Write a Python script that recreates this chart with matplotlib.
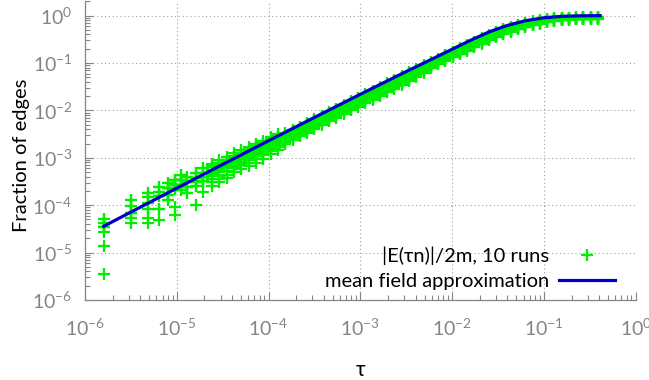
import numpy as np
import matplotlib
matplotlib.use("Agg")
import matplotlib.pyplot as plt
from matplotlib.ticker import LogLocator, LogFormatterMathtext, NullFormatter

plt.rcParams['font.family'] = ['Lato', 'DejaVu Sans']
plt.rcParams['mathtext.fontset'] = 'custom'
plt.rcParams['mathtext.rm'] = 'Lato'
plt.rcParams['mathtext.default'] = 'rm'

# tau grid: sample index k, tau = k * tau_step
tau_step = 1.6e-6
tau_k = [1, 2, 3, 4, 5, 6, 7, 8, 10, 12, 15, 18, 22, 26, 31, 38, 46, 55, 66, 79,
         95, 114, 137, 164, 197, 237, 284, 341, 410, 492, 590, 708, 850, 1020, 1224,
         1469, 1763, 2116, 2539, 3047, 3657, 4389, 5266, 6320, 7584, 9101, 10921,
         13105, 15726, 18872, 22646, 27175, 32610, 39132, 46958, 56350, 67620,
         81144, 97373, 116847, 140217, 168260, 201912, 242295]

# log10 of |E(tau n)|/2m for the 10 runs, one row per tau value
runs_log10 = [
    [-4.30, -4.38, -4.45, -4.45, -4.56, -4.38, -4.86, -5.46, -4.30, -4.45],
    [-4.02, -4.17, -3.89, -4.26, -4.37, -4.17, -4.02, -4.26, -3.89, -4.17],
    [-3.83, -3.96, -3.74, -4.07, -4.28, -3.96, -4.37, -3.83, -4.07, -3.74],
    [-3.72, -3.81, -3.61, -4.07, -3.81, -3.72, -4.31, -3.61, -3.81, -4.07],
    [-3.64, -3.78, -3.54, -3.89, -3.64, -3.78, -3.54, -3.89, -3.78, -3.64],
    [-3.57, -3.47, -4.03, -3.57, -4.21, -3.47, -3.57, -3.66, -3.66, -3.47],
    [-3.47, -3.57, -3.36, -3.68, -3.47, -3.57, -3.68, -3.36, -3.57, -3.47],
    [-3.40, -3.52, -3.62, -3.75, -3.40, -3.62, -3.52, -3.75, -3.62, -3.52],
    [-3.33, -3.43, -3.50, -4.00, -3.60, -3.43, -3.33, -3.50, -3.60, -3.43],
    [-3.22, -3.33, -3.40, -3.48, -3.72, -3.33, -3.40, -3.22, -3.48, -3.40],
    [-3.14, -3.20, -3.30, -3.38, -3.45, -3.26, -3.52, -3.18, -3.34, -3.60],
    [-3.05, -3.12, -3.22, -3.30, -3.38, -3.15, -3.45, -3.26, -3.20, -3.50],
    [-2.98, -3.04, -3.13, -3.20, -3.28, -3.10, -3.36, -3.16, -3.06, -3.42],
    [-2.90, -2.98, -3.06, -3.14, -3.22, -3.03, -3.30, -3.10, -2.96, -3.18],
    [-2.84, -2.92, -3.00, -3.08, -3.16, -2.97, -3.24, -3.03, -2.90, -3.12],
    [-2.78, -2.84, -2.93, -3.00, -3.10, -2.88, -3.18, -2.96, -2.82, -3.05],
    [-2.70, -2.76, -2.84, -2.92, -3.02, -2.80, -3.10, -2.88, -2.73, -2.97],
    [-2.64, -2.70, -2.78, -2.85, -2.95, -2.74, -3.02, -2.81, -2.67, -2.90],
    [-2.57, -2.63, -2.70, -2.78, -2.86, -2.66, -2.93, -2.74, -2.60, -2.82],
    [-2.50, -2.56, -2.62, -2.70, -2.78, -2.59, -2.84, -2.66, -2.53, -2.74],
    [-2.48, -2.54, -2.60, -2.66, -2.70, -2.52, -2.64, -2.57, -2.50, -2.68],
    [-2.42, -2.46, -2.52, -2.58, -2.62, -2.44, -2.56, -2.50, -2.41, -2.60],
    [-2.35, -2.39, -2.45, -2.51, -2.55, -2.37, -2.49, -2.43, -2.34, -2.53],
    [-2.28, -2.32, -2.37, -2.43, -2.47, -2.30, -2.41, -2.35, -2.27, -2.45],
    [-2.20, -2.24, -2.29, -2.35, -2.39, -2.22, -2.33, -2.27, -2.19, -2.37],
    [-2.12, -2.16, -2.21, -2.27, -2.31, -2.14, -2.25, -2.19, -2.11, -2.29],
    [-2.05, -2.09, -2.14, -2.19, -2.23, -2.07, -2.17, -2.11, -2.04, -2.21],
    [-1.98, -2.02, -2.07, -2.12, -2.16, -2.00, -2.10, -2.04, -1.97, -2.14],
    [-1.90, -1.94, -1.99, -2.04, -2.08, -1.92, -2.02, -1.96, -1.89, -2.06],
    [-1.82, -1.86, -1.91, -1.96, -2.00, -1.84, -1.94, -1.88, -1.81, -1.98],
    [-1.75, -1.79, -1.84, -1.89, -1.93, -1.77, -1.87, -1.81, -1.74, -1.91],
    [-1.67, -1.71, -1.76, -1.81, -1.85, -1.69, -1.79, -1.73, -1.66, -1.83],
    [-1.60, -1.64, -1.69, -1.74, -1.78, -1.62, -1.72, -1.66, -1.59, -1.76],
    [-1.52, -1.56, -1.61, -1.66, -1.70, -1.54, -1.64, -1.58, -1.51, -1.68],
    [-1.44, -1.48, -1.53, -1.58, -1.62, -1.46, -1.56, -1.50, -1.43, -1.60],
    [-1.37, -1.41, -1.46, -1.51, -1.55, -1.39, -1.49, -1.43, -1.36, -1.53],
    [-1.29, -1.33, -1.38, -1.43, -1.47, -1.31, -1.41, -1.35, -1.28, -1.45],
    [-1.21, -1.25, -1.30, -1.35, -1.38, -1.23, -1.33, -1.27, -1.20, -1.36],
    [-1.14, -1.18, -1.22, -1.27, -1.30, -1.16, -1.25, -1.20, -1.13, -1.28],
    [-1.06, -1.10, -1.14, -1.18, -1.21, -1.08, -1.16, -1.12, -1.05, -1.20],
    [-0.99, -1.02, -1.06, -1.09, -1.11, -1.00, -1.07, -1.04, -0.98, -1.10],
    [-0.92, -0.95, -0.98, -1.01, -1.03, -0.93, -0.99, -0.96, -0.91, -1.02],
    [-0.84, -0.87, -0.90, -0.93, -0.95, -0.85, -0.91, -0.88, -0.83, -0.94],
    [-0.77, -0.80, -0.83, -0.86, -0.88, -0.78, -0.84, -0.81, -0.76, -0.87],
    [-0.70, -0.73, -0.76, -0.79, -0.81, -0.71, -0.77, -0.74, -0.69, -0.80],
    [-0.63, -0.66, -0.69, -0.72, -0.74, -0.64, -0.70, -0.67, -0.62, -0.73],
    [-0.56, -0.59, -0.62, -0.65, -0.67, -0.57, -0.63, -0.60, -0.55, -0.66],
    [-0.49, -0.52, -0.55, -0.57, -0.59, -0.50, -0.56, -0.53, -0.48, -0.58],
    [-0.42, -0.45, -0.48, -0.50, -0.52, -0.43, -0.49, -0.46, -0.41, -0.51],
    [-0.35, -0.38, -0.41, -0.44, -0.46, -0.36, -0.42, -0.39, -0.34, -0.45],
    [-0.29, -0.32, -0.35, -0.37, -0.39, -0.30, -0.36, -0.33, -0.28, -0.38],
    [-0.24, -0.27, -0.29, -0.32, -0.34, -0.25, -0.30, -0.28, -0.23, -0.33],
    [-0.20, -0.22, -0.25, -0.27, -0.29, -0.21, -0.26, -0.23, -0.19, -0.28],
    [-0.16, -0.18, -0.20, -0.22, -0.24, -0.17, -0.21, -0.19, -0.15, -0.23],
    [-0.13, -0.15, -0.17, -0.19, -0.20, -0.14, -0.18, -0.16, -0.12, -0.19],
    [-0.10, -0.12, -0.14, -0.15, -0.17, -0.11, -0.15, -0.13, -0.10, -0.16],
    [-0.08, -0.10, -0.11, -0.13, -0.14, -0.09, -0.12, -0.10, -0.08, -0.13],
    [-0.07, -0.08, -0.10, -0.11, -0.12, -0.07, -0.10, -0.09, -0.06, -0.11],
    [-0.06, -0.07, -0.08, -0.09, -0.10, -0.06, -0.09, -0.08, -0.05, -0.10],
    [-0.05, -0.06, -0.07, -0.08, -0.09, -0.05, -0.08, -0.07, -0.05, -0.09],
    [-0.05, -0.06, -0.07, -0.08, -0.08, -0.05, -0.07, -0.06, -0.04, -0.08],
    [-0.04, -0.05, -0.06, -0.07, -0.08, -0.05, -0.07, -0.06, -0.04, -0.08],
    [-0.04, -0.05, -0.06, -0.07, -0.07, -0.04, -0.06, -0.05, -0.04, -0.07],
    [-0.04, -0.05, -0.05, -0.06, -0.07, -0.04, -0.06, -0.05, -0.03, -0.07],
]

# mean field approximation
mf_tau = [1.6e-6, 1e-5, 1e-4, 3.16e-4, 1e-3, 3.16e-3, 6.3e-3, 1e-2, 1.58e-2,
          2.51e-2, 3.98e-2, 6.3e-2, 0.1, 0.158, 0.251, 0.41]
mf_frac = [3.6e-5, 2.29e-4, 2.29e-3, 7.1e-3, 2.19e-2, 6.6e-2, 0.126, 0.195,
           0.30, 0.45, 0.62, 0.78, 0.90, 0.966, 0.99, 0.996]

tau = np.array(tau_k) * tau_step
frac = 10.0 ** np.array(runs_log10)
green = '#00ee00'

fig = plt.figure(figsize=(6.49, 3.80), dpi=100)
ax = fig.add_axes([0.131, 0.2105, 0.8485, 0.786])

grey = '#858585'
# where the runs are sampled densely the crosses merge into one solid band
dense = tau >= 1.2e-4
ax.fill_between(tau[dense], frac.min(axis=1)[dense], frac.max(axis=1)[dense],
                color=green, linewidth=0)
ax.plot(np.repeat(tau, frac.shape[1]), frac.ravel(), linestyle='none', marker='+',
        markersize=8, markeredgewidth=1.6, color=green,
        label='|E(τn)|/2m, 10 runs')
ax.plot(mf_tau, mf_frac, color='#0000cc', linewidth=2.3,
        label='mean field approximation')

ax.set_xscale('log')
ax.set_yscale('log')
ax.set_xlim(1e-6, 1.0)
ax.set_ylim(1e-6, 2.0)

for axis in (ax.xaxis, ax.yaxis):
    axis.set_major_locator(LogLocator(base=10, numticks=10))
    axis.set_minor_locator(LogLocator(base=10, subs=np.arange(2, 10), numticks=10))
    axis.set_major_formatter(LogFormatterMathtext())
    axis.set_minor_formatter(NullFormatter())

for side in ('top', 'right'):
    ax.spines[side].set_visible(False)
for side in ('left', 'bottom'):
    ax.spines[side].set_color(grey)
    ax.spines[side].set_linewidth(0.9)

ax.tick_params(which='both', direction='in', color=grey, labelcolor=grey, width=0.8)
ax.tick_params(which='major', length=6, labelsize=14)
ax.tick_params(which='minor', length=3.5)
ax.tick_params(axis='x', which='major', pad=13)
ax.tick_params(axis='y', which='major', pad=9)

ax.grid(True, which='major', color='#a0a0a0', linestyle=(0, (1, 2.5)), linewidth=0.8)
ax.set_axisbelow(True)

ax.set_xlabel('τ', fontsize=15)
ax.set_ylabel('Fraction of edges', fontsize=14.5)
ax.xaxis.set_label_coords(0.5, -0.2)
ax.yaxis.set_label_coords(-0.1, 0.485)

ax.legend(loc='lower right', bbox_to_anchor=(0.963, 0.035), frameon=False,
          markerfirst=False, fontsize=14.5, handlelength=2.8, handletextpad=0.5,
          labelspacing=0.35, borderpad=0, borderaxespad=0)

fig.savefig('out.png', dpi=100)
